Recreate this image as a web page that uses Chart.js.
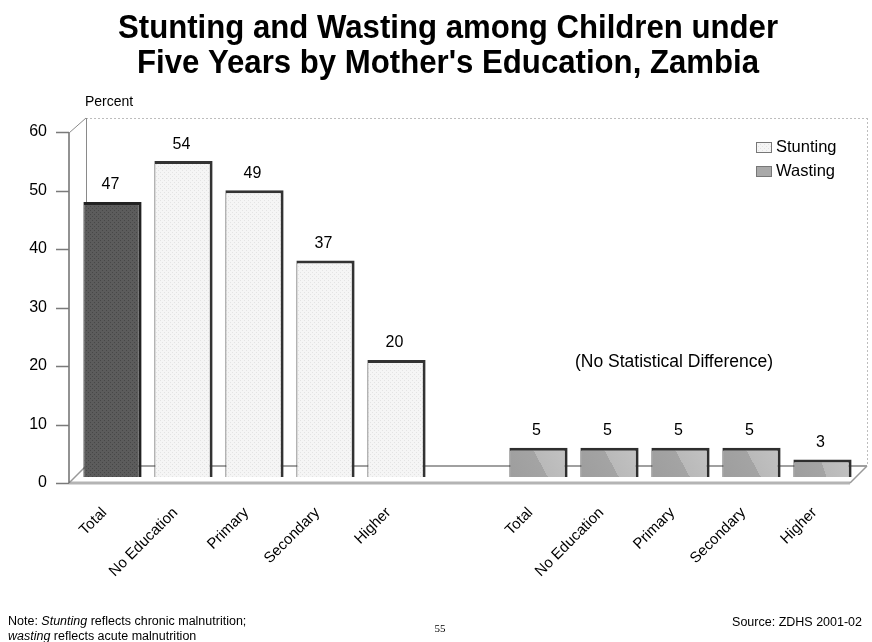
<!DOCTYPE html>
<html><head><meta charset="utf-8">
<script src="https://cdn.jsdelivr.net/npm/chart.js@4.4.0/dist/chart.umd.min.js"></script>
<style>html,body{margin:0;padding:0;background:#fff;overflow:hidden}</style>
</head><body>
<canvas id="c" width="872" height="642" style="width:872px;height:642px;display:block"></canvas>
<script>
// ---- data ----
const categories = ['Total','No Education','Primary','Secondary','Higher','','Total','No Education','Primary','Secondary','Higher'];
const stunting = [47,54,49,37,20,null,null,null,null,null,null];
const wasting  = [null,null,null,null,null,null,5,5,5,5,3];
const yTicks = [0,10,20,30,40,50,60];
const seriesNames = ['Stunting','Wasting'];
const titleLines = ["Stunting and Wasting among Children under","Five Years by Mother's Education, Zambia"];
const yAxisLabel = 'Percent';
const annotationText = '(No Statistical Difference)';
const noteLine1 = ['Note: ', 'Stunting', ' reflects chronic malnutrition;'];
const noteLine2 = ['wasting', ' reflects acute malnutrition'];
const pageNumber = '55';
const sourceText = 'Source: ZDHS 2001-02';

const NARROW = "'Liberation Sans Narrow','Arial Narrow','Liberation Sans',Arial,sans-serif";
const SANS = "'Liberation Sans',Arial,sans-serif";

const canvas = document.getElementById('c');
const mainCtx = canvas.getContext('2d');
function dotPattern(base, dot){
  const c = document.createElement('canvas'); c.width = 4; c.height = 4;
  const g = c.getContext('2d');
  g.fillStyle = base; g.fillRect(0,0,4,4);
  g.fillStyle = dot; g.fillRect(0,0,1,1); g.fillRect(2,2,1,1);
  return mainCtx.createPattern(c,'repeat');
}
const darkFill = dotPattern('#5c5c5c','#474747');
const lightFill = dotPattern('#f5f5f5','#e3e3e3');

function wastingFill(ctx){
  const chart = ctx.chart;
  if (!chart.chartArea || ctx.raw == null) return '#a8a8a8';
  const xs = chart.scales.x, ys = chart.scales.y;
  const cx = xs.getPixelForValue(ctx.dataIndex);
  const half = 27;
  const yt = ys.getPixelForValue(ctx.raw), yb = ys.getPixelForValue(0);
  const g2 = chart.ctx.createLinearGradient(cx-half, yb, cx+half, yt);
  g2.addColorStop(0,'#9e9e9e'); g2.addColorStop(0.52,'#a4a4a4');
  g2.addColorStop(0.52,'#b9b9b9'); g2.addColorStop(1,'#c2c2c2');
  return g2;
}

const frame3d = {
  id:'frame3d',
  beforeDatasetsDraw(chart){
    const {ctx, chartArea:{left,right,top,bottom}} = chart;
    const ys = chart.scales.y;
    const fx = left-8, bx = left+9, frx = right-8, brx = right+9;
    const ffy = bottom+6, bfy = bottom-11, bty = top-8, fty = ys.getPixelForValue(60)+7;
    ctx.save();
    ctx.lineWidth = 1;
    ctx.strokeStyle = '#bdbdbd'; ctx.setLineDash([2,2]);
    ctx.beginPath(); ctx.moveTo(bx,bty+0.5); ctx.lineTo(brx,bty+0.5); ctx.moveTo(brx+0.5,bty); ctx.lineTo(brx+0.5,bfy); ctx.stroke();
    ctx.setLineDash([]);
    ctx.strokeStyle = '#8a8a8a';
    ctx.beginPath(); ctx.moveTo(bx+0.5,bty); ctx.lineTo(bx+0.5,bfy); ctx.moveTo(fx,fty); ctx.lineTo(bx,bty); ctx.stroke();
    ctx.strokeStyle = '#a0a0a0'; ctx.lineWidth = 2;
    ctx.beginPath(); ctx.moveTo(bx,bfy); ctx.lineTo(brx,bfy); ctx.stroke();
    ctx.strokeStyle = '#b4b4b4'; ctx.lineWidth = 3;
    ctx.beginPath(); ctx.moveTo(fx,ffy); ctx.lineTo(frx,ffy); ctx.stroke();
    ctx.lineWidth = 1.5; ctx.strokeStyle = '#999';
    ctx.beginPath(); ctx.moveTo(frx,ffy); ctx.lineTo(brx,bfy); ctx.moveTo(fx,ffy); ctx.lineTo(bx,bfy); ctx.stroke();
    ctx.strokeStyle = '#6e6e6e'; ctx.lineWidth = 1.5;
    ctx.beginPath(); ctx.moveTo(fx,fty); ctx.lineTo(fx,ffy); ctx.stroke();
    ctx.lineWidth = 1.5; ctx.strokeStyle = '#7a7a7a';
    ctx.beginPath();
    yTicks.forEach(v=>{ const yy = Math.round(ys.getPixelForValue(v)+6)+0.5; ctx.moveTo(fx-13,yy); ctx.lineTo(fx,yy); });
    ctx.stroke();
    ctx.restore();
  }
};

const texts = {
  id:'texts',
  afterDatasetsDraw(chart){
    const ctx = chart.ctx;
    ctx.save();
    // title (centred on the plot, slightly condensed)
    ctx.fillStyle = '#000'; ctx.textAlign = 'center'; ctx.textBaseline = 'middle';
    ctx.font = "bold 33px " + NARROW;
    const w0 = ctx.measureText(titleLines[0]).width;
    const sx = 660 / w0;
    [29, 64].forEach((ty,i)=>{
      ctx.save(); ctx.translate(448, ty); ctx.scale(sx, 1);
      ctx.fillText(titleLines[i], 0, 0); ctx.restore();
    });
    // value labels
    ctx.font = "16px " + SANS;
    chart.data.datasets.forEach((ds,di)=>{
      const meta = chart.getDatasetMeta(di);
      meta.data.forEach((el,i)=>{
        const v = ds.data[i];
        if (v == null) return;
        ctx.fillText(String(v), el.x - 2, el.y - 17);
      });
    });
    const {left,right,top,bottom} = chart.chartArea;
    ctx.textAlign = 'left'; ctx.font = "14px " + NARROW;
    ctx.fillText(yAxisLabel, left+8, top-24);
    ctx.textAlign = 'center'; ctx.font = "17.5px " + NARROW;
    ctx.fillText(annotationText, 674, 362);
    const lx = 756, ly = [147, 171];
    const fills = [lightFill, '#a9a9a9'];
    ctx.font = "16.5px " + NARROW; ctx.textAlign = 'left';
    seriesNames.forEach((n,i)=>{
      ctx.fillStyle = fills[i]; ctx.fillRect(lx, ly[i]-5, 16, 11);
      ctx.strokeStyle = '#777'; ctx.lineWidth = 1; ctx.strokeRect(lx+0.5, ly[i]-4.5, 15, 10);
      ctx.fillStyle = '#000'; ctx.fillText(n, lx+20, ly[i]);
    });
    ctx.textBaseline = 'alphabetic';
    let x = 8;
    noteLine1.forEach((t,i)=>{ ctx.font = (i===1?'italic ':'') + "12.5px " + NARROW; ctx.fillText(t, x, 625); x += ctx.measureText(t).width; });
    x = 8;
    noteLine2.forEach((t,i)=>{ ctx.font = (i===0?'italic ':'') + "12.5px " + NARROW; ctx.fillText(t, x, 640); x += ctx.measureText(t).width; });
    ctx.font = "11px 'Liberation Serif','DejaVu Serif',serif"; ctx.textAlign='center';
    ctx.fillText(pageNumber, 440, 632);
    ctx.font = "12.5px " + NARROW; ctx.textAlign = 'right';
    ctx.fillText(sourceText, 862, 626);
    ctx.restore();
  }
};

new Chart(canvas, {
  type:'bar',
  data:{
    labels: categories,
    datasets:[
      { label: seriesNames[0], data: stunting,
        backgroundColor: stunting.map((v,i)=> i===0 ? darkFill : lightFill),
        borderColor: stunting.map((v,i)=> i===0 ? '#222' : '#333'),
        borderWidth: {top:3, right:3, bottom:0, left:1}, borderSkipped:false },
      { label: seriesNames[1], data: wasting,
        backgroundColor: wastingFill,
        borderColor: '#2e2e2e',
        borderWidth: {top:3, right:3, bottom:0, left:1}, borderSkipped:false }
    ]
  },
  options:{
    responsive:false, animation:false, devicePixelRatio:1,
    datasets:{ bar:{ grouped:false, barPercentage:0.82, categoryPercentage:1 } },
    layout:{ padding:{ left:0, right:14, top:126, bottom:55 } },
    plugins:{
      legend:{ display:false }, tooltip:{ enabled:false }, title:{ display:false }
    },
    scales:{
      x:{ offset:true, grid:{ display:false, drawTicks:false }, border:{ display:false },
        ticks:{ autoSkip:false, maxRotation:45, minRotation:45, color:'#000',
          font:{ family:NARROW, size:15 }, padding:27, labelOffset:-8 },
        afterFit(s){ s.height = 110; } },
      y:{ min:0, max:60, grid:{ display:false, drawTicks:false }, border:{ display:false },
        afterBuildTicks(s){ s.ticks = yTicks.map(v=>({value:v})); },
        ticks:{ color:'#000', font:{ family:SANS, size:16 }, padding:30, labelOffset:6 },
        afterFit(s){ s.width = 77; } }
    }
  },
  plugins:[frame3d, texts]
});
</script>
</body></html>
